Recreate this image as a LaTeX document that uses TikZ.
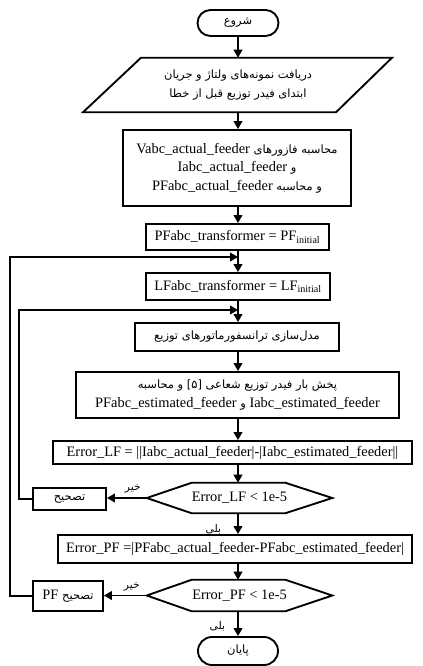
\documentclass[tikz,border=0pt]{standalone}
\usepackage{fontspec}
\setmainfont{Liberation Serif}
\newfontfamily\fafont[Script=Arabic]{DejaVu Sans}
\TeXXeTstate=1
\usetikzlibrary{arrows.meta,calc}
\newcommand{\fa}{\fafont\fontsize{8.6}{14}\selectfont}
\newcommand{\lat}[1]{\beginL{\rmfamily\fontsize{10.8}{14}\selectfont #1}\endL}
\newcommand{\rtl}[1]{{\fa\beginR #1\endR}}
\newcommand{\rtls}[1]{{\fafont\fontsize{8}{9}\selectfont\beginR #1\endR}}
\begin{document}
\begin{tikzpicture}[x=0.75pt,y=-0.75pt,
  box/.style={draw, line width=1.4pt, inner sep=0pt, align=center,
    font=\fontsize{10.8}{14}\selectfont},
  ghost/.style={inner sep=0pt, align=center, font=\fontsize{10.8}{14}\selectfont},
  shapeline/.style={line width=1.4pt, line join=miter},
  flow/.style={line width=1.3pt, -{Triangle[length=6pt,width=6.5pt]}},
  lbl/.style={inner sep=0pt}
]
\useasboundingbox (0,0) rectangle (422,666);
\coordinate (ax) at (238,0);
\coordinate (o1) at (10,0);
\coordinate (o2) at (19,0);
\coordinate (j1) at (238,257);
\coordinate (j2) at (238,310);

% nodes
\node[box, rounded corners=9.75pt, minimum width=60.75pt, minimum height=19.5pt] (start) at (238,23) {\rtl{شروع}};
\node[ghost, minimum width=188.6pt, minimum height=40.5pt] (input) at (238,85)
  {\rtl{دریافت نمونه‌های ولتاژ و جریان}\\\rtl{ابتدای فیدر توزیع قبل از خطا}};
\draw[shapeline] ($(input.north west)+(29,0)$) -- ($(input.north east)+(28,0)$)
  -- ($(input.south east)+(-28,0)$) -- ($(input.south west)+(-29,0)$) -- cycle;
\node[box, minimum width=171pt, minimum height=57pt] (calc) at (237,168)
  {\rtl{محاسبه فازورهای \lat{Vabc\_actual\_feeder}}\\
   \rtl{و \lat{Iabc\_actual\_feeder}}\\
   \rtl{و محاسبه \lat{PFabc\_actual\_feeder}}};
\node[box, minimum width=137.25pt, minimum height=19.5pt] (pfi) at (237.5,237)
  {PFabc\_transformer = PF\textsubscript{initial}};
\node[box, minimum width=138pt, minimum height=20.25pt] (lfi) at (238,286.5)
  {LFabc\_transformer = LF\textsubscript{initial}};
\node[box, minimum width=153pt, minimum height=21pt] (model) at (237,337)
  {\rtl{مدل‌سازی ترانسفورماتورهای توزیع}};
\node[box, minimum width=242.25pt, minimum height=34.5pt] (lf) at (237.5,395)
  {\rtl{پخش بار فیدر توزیع شعاعی \beginL[۵]\endL{} و محاسبه}\\
   \rtl{\lat{Iabc\_estimated\_feeder} و \lat{PFabc\_estimated\_feeder}}};
\node[box, minimum width=269.25pt, minimum height=17.25pt] (elf) at (232.5,452.5)
  {Error\_LF = ||Iabc\_actual\_feeder|-|Iabc\_estimated\_feeder||};
\node[ghost, minimum width=138.75pt, minimum height=22.5pt] (d1) at (239.5,498)
  {Error\_LF < 1e-5};
\draw[shapeline] (d1.west) -- ($(d1.north west)+(45,0)$) -- ($(d1.north east)+(-47,0)$)
  -- (d1.east) -- ($(d1.south east)+(-47,0)$) -- ($(d1.south west)+(45,0)$) -- cycle;
\node[box, minimum width=54.75pt, minimum height=16.5pt] (c1) at (69.5,499)
  {\rtl{تصحیح}};
\node[box, minimum width=265.5pt, minimum height=21pt] (epf) at (235,549)
  {Error\_PF =|PFabc\_actual\_feeder-PFabc\_estimated\_feeder|};
\node[ghost, minimum width=138.75pt, minimum height=23.25pt] (d2) at (239.5,595.5)
  {Error\_PF < 1e-5};
\draw[shapeline] (d2.west) -- ($(d2.north west)+(45,0)$) -- ($(d2.north east)+(-47,0)$)
  -- (d2.east) -- ($(d2.south east)+(-47,0)$) -- ($(d2.south west)+(45,0)$) -- cycle;
\node[box, minimum width=52.5pt, minimum height=22.5pt] (c2) at (68,596)
  {\rtl{تصحیح \lat{PF}}};
\node[box, rounded corners=10.5pt, minimum width=60pt, minimum height=21pt] (stop) at (238,651)
  {\rtl{پایان}};

% connectors
\draw[flow] (ax |- start.south) -- (ax |- input.north);
\draw[flow] (ax |- input.south) -- (ax |- calc.north);
\draw[flow] (ax |- calc.south) -- (ax |- pfi.north);
\draw[flow] (ax |- pfi.south) -- (ax |- lfi.north);
\draw[flow] (ax |- lfi.south) -- (ax |- model.north);
\draw[flow] (ax |- model.south) -- (ax |- lf.north);
\draw[flow] (ax |- lf.south) -- (ax |- elf.north);
\draw[flow] (ax |- elf.south) -- (ax |- d1.north);
\draw[flow] (ax |- d1.south) -- (ax |- epf.north) node[lbl, pos=0.75, left=12pt] {\rtls{بلی}};
\draw[flow] (ax |- epf.south) -- (ax |- d2.north);
\draw[flow] (ax |- d2.south) -- (ax |- stop.north) node[lbl, pos=0.6, left=9pt] {\rtls{بلی}};
\draw[flow] (d1.west) -- (d1.west -| c1.east) node[lbl, pos=0.35, above=3pt] {\rtls{خیر}};
\draw[flow] (d2.west) -- (d2.west -| c2.east) node[lbl, pos=0.35, above=3pt] {\rtls{خیر}};
\draw[flow] (c1.west) -- (c1.west -| o2) -- (o2 |- j2) -- (j2);
\draw[flow] (c2.west) -- (c2.west -| o1) -- (o1 |- j1) -- (j1);
\end{tikzpicture}
\end{document}
